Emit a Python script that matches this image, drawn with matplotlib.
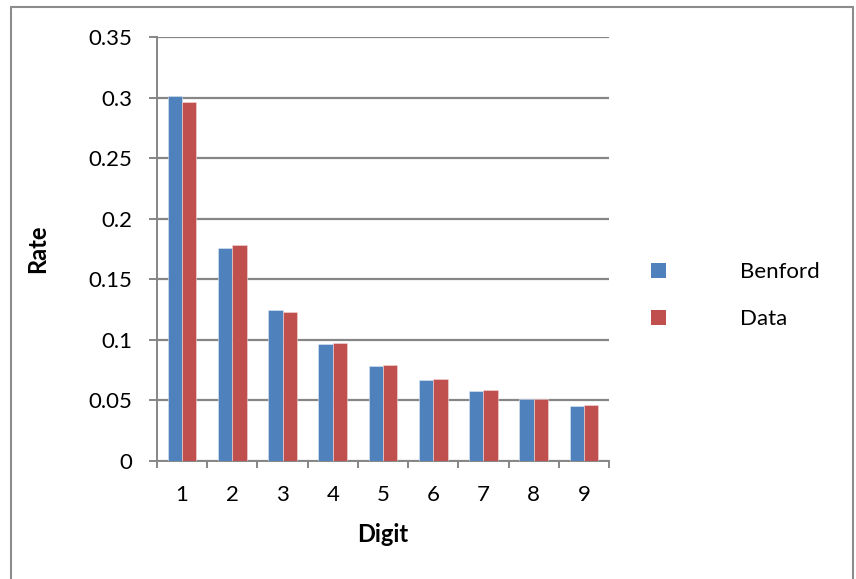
import matplotlib
matplotlib.use("Agg")
import matplotlib.pyplot as plt
from matplotlib.patches import Rectangle, Patch

digits = [1, 2, 3, 4, 5, 6, 7, 8, 9]
benford = [0.301, 0.176, 0.1245, 0.0967, 0.0788, 0.0668, 0.0579, 0.0512, 0.0457]
data = [0.2965, 0.178, 0.1231, 0.0978, 0.0793, 0.0675, 0.0587, 0.0512, 0.0466]
series_names = ["Benford", "Data"]
y_ticks = [0, 0.05, 0.1, 0.15, 0.2, 0.25, 0.3, 0.35]
y_tick_labels = ["0", "0.05", "0.1", "0.15", "0.2", "0.25", "0.3", "0.35"]

BLUE = "#4F81BD"
RED = "#C0504D"
GREY = "#868686"

plt.rcParams["font.family"] = ["Lato", "DejaVu Sans"]

W, H = 856, 579
fig = plt.figure(figsize=(W / 100, H / 100), dpi=100)
ax = fig.add_axes([157 / W, 1 - 461 / H, (609 - 157) / W, (461 - 37) / H])

bw = 0.285
xb = [d - bw / 2 for d in digits]
xd = [d + bw / 2 for d in digits]
ax.bar(xb, benford, width=bw, color=BLUE, edgecolor="#dfe7f2", linewidth=0.4, zorder=3)
ax.bar(xd, data, width=bw, color=RED, edgecolor="#f2d9d8", linewidth=0.4, zorder=3)

ax.set_xlim(0.5, 9.5)
ax.set_ylim(0, 0.35)
ax.set_yticks(y_ticks)
ax.set_yticklabels(y_tick_labels)
ax.set_xticks(digits)
ax.set_xticklabels([str(d) for d in digits])
ax.set_xticks([d - 0.5 for d in digits] + [9.5], minor=True)

ax.tick_params(axis="y", length=5.8, width=1.4, color=GREY, pad=12, labelsize=16)
ax.tick_params(axis="x", which="major", length=0, pad=17, labelsize=16)
ax.tick_params(axis="x", which="minor", length=5, width=1.4, color=GREY, direction="out")

ax.yaxis.grid(True, color=GREY, linewidth=1.6, zorder=0)
ax.set_axisbelow(True)
for s in ["top", "right"]:
    ax.spines[s].set_visible(False)
for s in ["left", "bottom"]:
    ax.spines[s].set_color(GREY)
    ax.spines[s].set_linewidth(1.4)

fig.text(38 / W, 1 - 249 / H, "Rate", rotation=90, ha="center", va="center",
         fontsize=17, fontweight="bold")
fig.text(383 / W, 1 - 535 / H, "Digit", ha="center", va="center",
         fontsize=17, fontweight="bold")

handles = [Patch(facecolor=BLUE, edgecolor="none"), Patch(facecolor=RED, edgecolor="none")]
fig.legend(handles, series_names, loc="center left",
           bbox_to_anchor=(651 / W, 1 - 295.5 / H), bbox_transform=fig.transFigure,
           frameon=False, fontsize=16, borderpad=0, borderaxespad=0,
           handlelength=0.68, handleheight=0.68, handletextpad=3.33, labelspacing=1.22)

fig.patches.append(Rectangle((11 / W, -0.02), (853 - 11) / W, (579 - 7) / H + 0.02,
                             transform=fig.transFigure, fill=False,
                             edgecolor="#8c8c8c", linewidth=1.5))

fig.savefig("out.png", dpi=100)
